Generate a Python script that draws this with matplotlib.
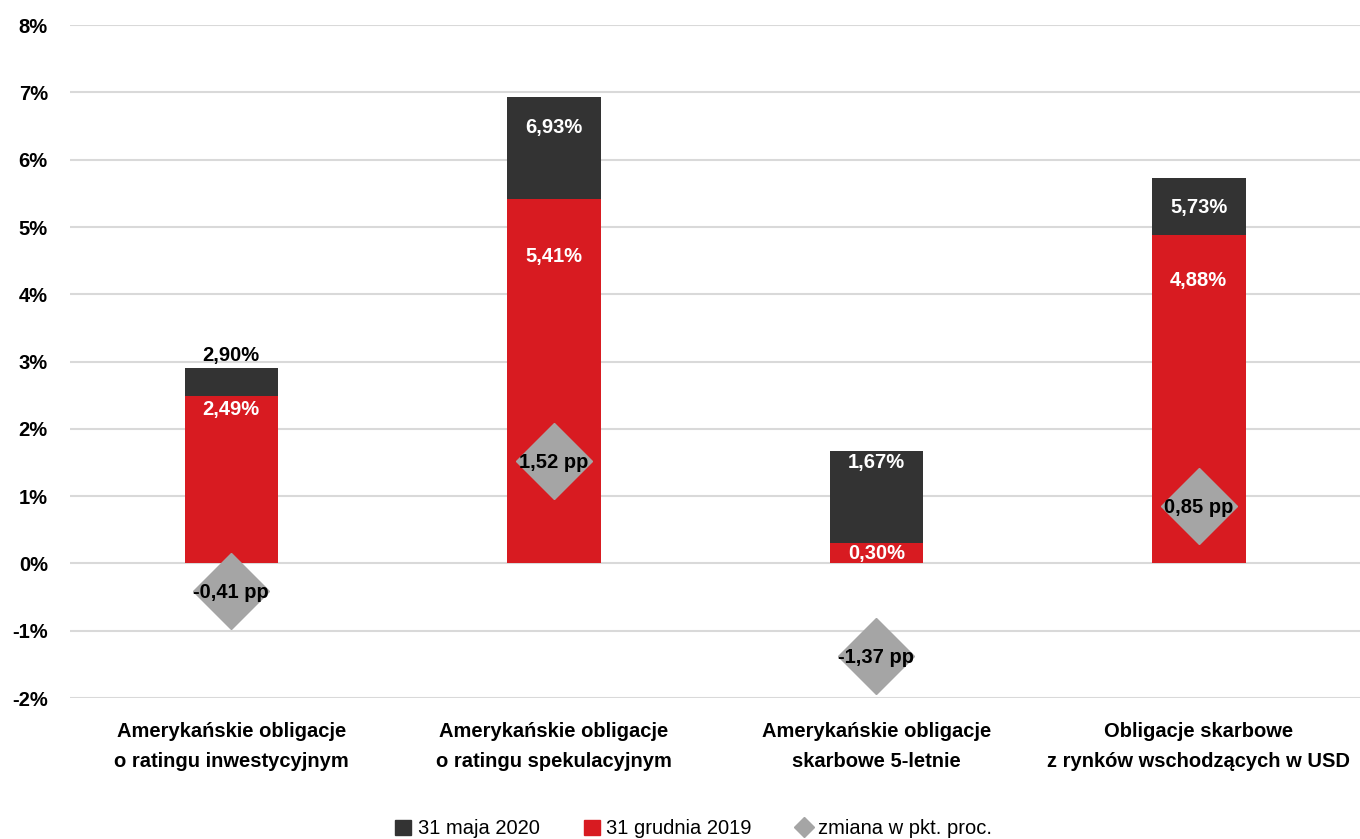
import matplotlib as mpl
mpl.use("Agg")
import matplotlib.pyplot as plt
from matplotlib.lines import Line2D
from matplotlib.patches import Patch

mpl.rcParams.update({"font.family": ["Liberation Sans", "DejaVu Sans"]})
DARK, RED, GREY, GRID = "#333333", "#D81B21", "#A5A5A5", "#D9D9D9"

categories = ["Amerykańskie obligacje\no ratingu inwestycyjnym",
              "Amerykańskie obligacje\no ratingu spekulacyjnym",
              "Amerykańskie obligacje\nskarbowe 5-letnie",
              "Obligacje skarbowe\nz rynków wschodzących w USD"]
may2020 = [2.90, 6.93, 1.67, 5.73]
dec2019 = [2.49, 5.41, 0.30, 4.88]
change = [-0.41, 1.52, -1.37, 0.85]
yticks = [-2, -1, 0, 1, 2, 3, 4, 5, 6, 7, 8]

# label offsets (points, from the bar top) roughly as placed in the original
dark_off = [9, -22, -8, -21]
red_off = [-10, -41, -7, -33]

fmt = lambda v: f"{v:.2f}".replace(".", ",")

fig = plt.figure(figsize=(13.6, 8.39), dpi=100)
ax = fig.add_axes([0.0515, 0.168, 0.9485, 0.802])
x = range(len(categories))
w = 0.29
ax.bar(x, may2020, width=w, color=DARK, zorder=2)
ax.bar(x, dec2019, width=w, color=RED, zorder=3)
ax.plot(x, change, ls="none", marker="D", ms=39, color=GREY, mec=GREY, zorder=4)

for i in x:
    ax.annotate(fmt(may2020[i]) + "%", (i, may2020[i]), xytext=(0, dark_off[i]),
                textcoords="offset points", ha="center", va="center", fontsize=14.5,
                fontweight="bold", color="black" if i == 0 else "white", zorder=5)
    ax.annotate(fmt(dec2019[i]) + "%", (i, dec2019[i]), xytext=(0, red_off[i]),
                textcoords="offset points", ha="center", va="center", fontsize=14.5,
                fontweight="bold", color="white", zorder=5)
    ax.annotate(fmt(change[i]) + " pp", (i, change[i]), xytext=(0, -1),
                textcoords="offset points", ha="center", va="center",
                fontsize=14.5, fontweight="bold", color="black", zorder=5)

ax.set_xlim(-0.5, 3.5)
ax.set_ylim(-2, 8)
ax.set_yticks(yticks)
ax.set_yticklabels([f"{t}%" for t in yticks], fontsize=14.5, fontweight="bold")
ax.set_xticks(list(x))
ax.set_xticklabels(categories, fontsize=14.5, fontweight="bold", linespacing=1.75)
ax.tick_params(length=0, axis="y", pad=16)
ax.tick_params(length=0, axis="x", pad=17)
ax.grid(axis="y", color=GRID, lw=1.5, zorder=0)
for s in ax.spines.values():
    s.set_visible(False)

handles = [Patch(color=DARK, label="31 maja 2020"),
           Patch(color=RED, label="31 grudnia 2019"),
           Line2D([], [], ls="none", marker="D", ms=10, color=GREY, label="zmiana w pkt. proc.")]
fig.legend(handles=handles, loc="center", bbox_to_anchor=(0.51, 0.012), ncol=3,
           frameon=False, fontsize=14.5, handlelength=0.8, handleheight=0.8,
           handletextpad=0.3, columnspacing=2.2)

fig.savefig("out.png")
